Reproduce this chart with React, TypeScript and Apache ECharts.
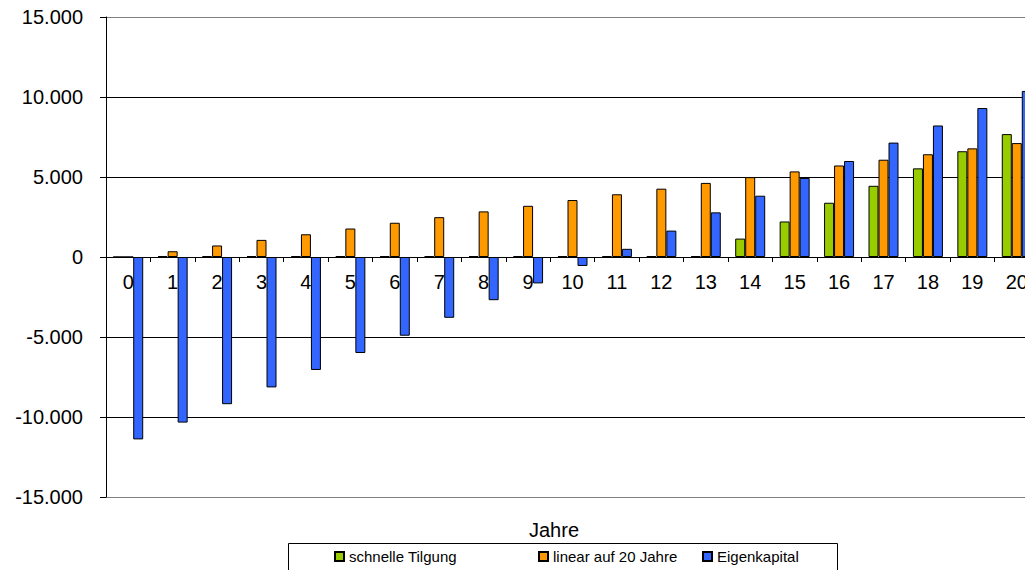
import React, { useEffect, useRef } from "react";
import * as echarts from "echarts";

// Years on the category axis
const jahre: string[] = [
  "0", "1", "2", "3", "4", "5", "6", "7", "8", "9", "10",
  "11", "12", "13", "14", "15", "16", "17", "18", "19", "20",
];

const seriesNames: string[] = ["schnelle Tilgung", "linear auf 20 Jahre", "Eigenkapital"];

const schnelleTilgung: number[] = [
  0, 60, 60, 60, 60, 60, 60, 60, 60, 60, 60,
  60, 60, 60, 1150, 2220, 3390, 4450, 5540, 6610, 7680,
];

const linearAuf20Jahre: number[] = [
  0, 360, 720, 1070, 1420, 1780, 2140, 2490, 2850, 3200, 3560,
  3920, 4270, 4630, 4990, 5350, 5720, 6080, 6420, 6790, 7120,
];

const eigenkapital: number[] = [
  -11400, -10350, -9200, -8150, -7060, -6000, -4920, -3800, -2700, -1650, -560,
  510, 1650, 2790, 3830, 4940, 6000, 7150, 8220, 9310, 10380,
];

const yTicks: number[] = [-15000, -10000, -5000, 0, 5000, 10000, 15000];

const colors: string[] = ["#99CC00", "#FF9900", "#3366FF"];

// German thousands separator: 15000 -> "15.000"
const formatDe = (v: number): string => {
  const s = String(Math.abs(v)).replace(/\B(?=(\d{3})+(?!\d))/g, ".");
  return v < 0 ? "-" + s : s;
};

const FONT = "Liberation Sans, Arial, sans-serif";

const GRID_TOP = 17;
const GRID_BOTTOM = 73;
const CHART_H = 570;

// legend columns (left edge of each entry's colour box)
const LEGEND_COLUMNS = [334, 538, 702];

export default function App() {
  const ref = useRef<HTMLDivElement>(null);

  useEffect(() => {
    if (!ref.current) return;
    const chart = echarts.init(ref.current, undefined, { renderer: "svg" });

    const barStyle = (c: string) => ({ color: c, borderColor: "#000", borderWidth: 1 });
    const seriesData = [schnelleTilgung, linearAuf20Jahre, eigenkapital];

    // the category axis sits on the zero line, halfway up the plot
    const plotH = CHART_H - GRID_TOP - GRID_BOTTOM;
    const zeroOffset = -plotH * (0 - yTicks[0]) / (yTicks[yTicks.length - 1] - yTicks[0]);

    const legends = seriesNames.map((name, i) => ({
      show: true,
      left: LEGEND_COLUMNS[i],
      top: 549,
      orient: "horizontal",
      padding: 0,
      itemWidth: 9,
      itemHeight: 9,
      icon: "rect",
      textStyle: { fontSize: 15, color: "#000", fontFamily: FONT },
      data: [name],
    }));

    chart.setOption({
      animation: false,
      backgroundColor: "#ffffff",
      textStyle: { fontFamily: FONT },
      grid: {
        left: 106,
        right: -14,
        top: GRID_TOP,
        bottom: GRID_BOTTOM,
        containLabel: false,
        outerBoundsMode: "none",
      },
      xAxis: {
        type: "category",
        data: jahre,
        offset: zeroOffset,
        axisLine: { onZero: false, lineStyle: { color: "#000", width: 1 } },
        axisTick: { show: true, alignWithLabel: false, length: 5, lineStyle: { color: "#000" } },
        axisLabel: {
          interval: 0,
          margin: 15,
          fontSize: 20,
          color: "#000",
          fontFamily: FONT,
        },
        splitLine: { show: false },
      },
      yAxis: {
        type: "value",
        min: yTicks[0],
        max: yTicks[yTicks.length - 1],
        interval: 5000,
        axisLine: { show: true, lineStyle: { color: "#000", width: 1 } },
        axisTick: { show: true, length: 6, lineStyle: { color: "#000" } },
        axisLabel: {
          margin: 23,
          fontSize: 20,
          color: "#000",
          fontFamily: FONT,
          formatter: (v: number) => formatDe(v),
        },
        splitLine: {
          show: true,
          lineStyle: {
            color: ["#808080", "#000", "#000", "#000", "#000", "#000", "#808080"],
            width: 1,
          },
        },
      },
      legend: legends,
      graphic: [
        {
          type: "text",
          x: 554,
          y: 530,
          style: {
            text: "Jahre",
            fontSize: 20,
            fontFamily: FONT,
            fill: "#000",
            textAlign: "center",
            textVerticalAlign: "middle",
          },
        },
        {
          type: "rect",
          shape: { x: 288.5, y: 543.5, width: 549, height: 32 },
          style: { fill: "none", stroke: "#000", lineWidth: 1 },
          silent: true,
        },
      ],
      series: seriesNames.map((name, i) => ({
        name,
        type: "bar",
        data: seriesData[i],
        barWidth: 10,
        barGap: "0%",
        itemStyle: barStyle(colors[i]),
      })),
    });

    return () => chart.dispose();
  }, []);

  return (
    <div
      ref={ref}
      style={{ position: "fixed", left: 0, top: 0, width: 1025, height: 570, background: "#fff" }}
    />
  );
}
